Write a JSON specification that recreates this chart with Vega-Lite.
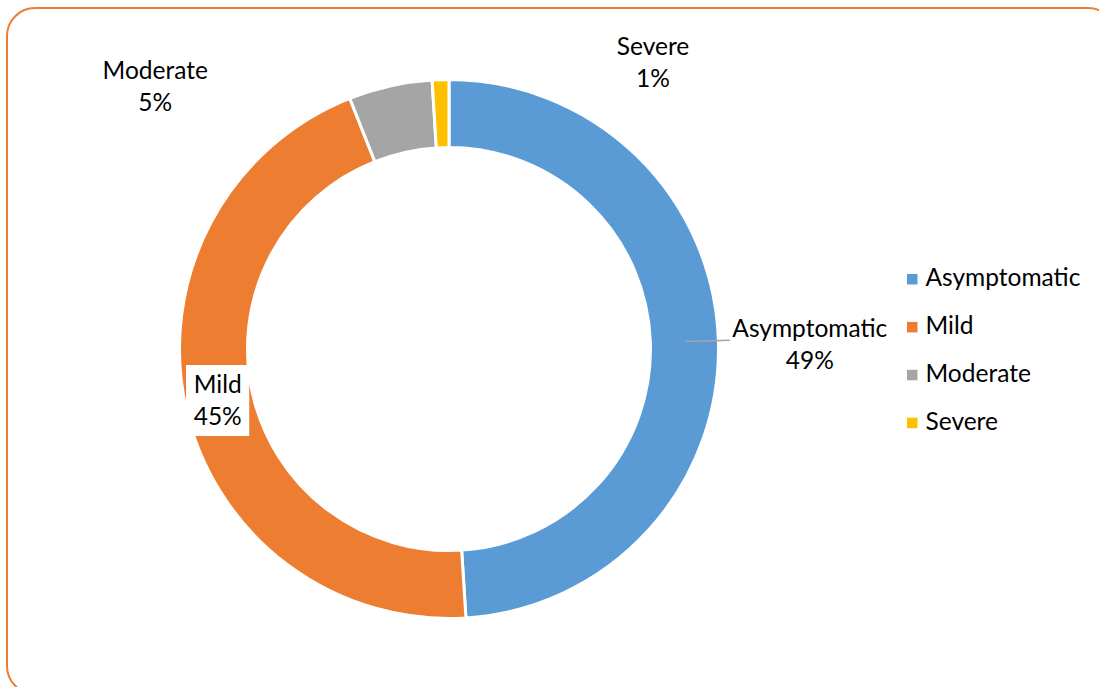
{
  "$schema": "https://vega.github.io/schema/vega-lite/v6.json",
  "width": 1099,
  "height": 687,
  "autosize": {"type": "fit", "contains": "padding"},
  "padding": {"left": 7, "top": 8, "right": -17, "bottom": -7},
  "background": "white",
  "view": {"stroke": "#ED7D31", "strokeWidth": 2, "cornerRadius": 28},
  "config": {"font": "Lato"},
  "data": {
    "values": [
      {"category": "Asymptomatic", "value": 49},
      {"category": "Mild", "value": 45},
      {"category": "Moderate", "value": 5},
      {"category": "Severe", "value": 1}
    ]
  },
  "transform": [
    {"window": [{"op": "sum", "field": "value", "as": "cum"}], "sort": [{"field": "category"}], "frame": [null, 0]},
    {"calculate": "datum.cum - datum.value / 2", "as": "mid"},
    {"calculate": "datum.category + '\\n' + datum.value + '%'", "as": "label"}
  ],
  "layer": [
    {
      "mark": {"type": "arc", "outerRadius": 269.5, "innerRadius": 201.5, "stroke": "white", "strokeWidth": 3, "x": 442, "y": 341},
      "encoding": {
        "theta": {"field": "value", "type": "quantitative", "stack": true},
        "order": {"field": "category", "type": "nominal"},
        "color": {
          "field": "category",
          "type": "nominal",
          "scale": {
            "domain": ["Asymptomatic", "Mild", "Moderate", "Severe"],
            "range": ["#5B9BD5", "#ED7D31", "#A5A5A5", "#FFC000"]
          },
          "legend": {
            "title": null,
            "orient": "none",
            "legendX": 893,
            "legendY": 259,
            "symbolType": "square",
            "symbolSize": 110,
            "symbolStrokeWidth": 0,
            "labelFont": "Lato",
            "labelFontSize": 24.5,
            "labelColor": "#000000",
            "labelOffset": 1,
            "rowPadding": 22.9
          }
        }
      }
    },
    {
      "transform": [{"filter": "datum.category === 'Asymptomatic'"}],
      "mark": {"type": "arc", "x": 442, "y": 341, "radius": 281, "radius2": 236, "fill": null, "stroke": "#A5A5A5", "strokeWidth": 1.5},
      "encoding": {
        "theta": {"field": "mid", "type": "quantitative", "stack": null},
        "theta2": {"field": "mid"}
      }
    },
    {
      "transform": [{"filter": "datum.category === 'Mild'"}],
      "mark": {"type": "text", "x": 442, "y": 341, "radius": 237, "dy": -9, "text": "▆", "font": "DejaVu Sans", "fontSize": 80, "color": "white", "align": "center", "baseline": "middle"},
      "encoding": {
        "theta": {"field": "mid", "type": "quantitative", "stack": null}
      }
    },
    {
      "transform": [{"filter": "datum.category === 'Asymptomatic'"}],
      "mark": {"type": "text", "x": 442, "y": 341, "radius": 361, "dy": -8, "fontSize": 24.5, "lineBreak": "\n", "lineHeight": 32, "color": "#000000", "align": "center", "baseline": "middle"},
      "encoding": {
        "theta": {"field": "mid", "type": "quantitative", "stack": null},
        "text": {"field": "label"}
      }
    },
    {
      "transform": [{"filter": "datum.category === 'Mild'"}],
      "mark": {"type": "text", "x": 442, "y": 341, "radius": 237, "dy": -15, "fontSize": 24.5, "lineBreak": "\n", "lineHeight": 32, "color": "#000000", "align": "center", "baseline": "middle"},
      "encoding": {
        "theta": {"field": "mid", "type": "quantitative", "stack": null},
        "text": {"field": "label"}
      }
    },
    {
      "transform": [{"filter": "datum.category === 'Moderate'"}],
      "mark": {"type": "text", "x": 442, "y": 341, "radius": 269.5, "dx": -235, "dy": -14, "fontSize": 24.5, "lineBreak": "\n", "lineHeight": 32, "color": "#000000", "align": "center", "baseline": "middle"},
      "encoding": {
        "theta": {"field": "mid", "type": "quantitative", "stack": null},
        "text": {"field": "label"}
      }
    },
    {
      "transform": [{"filter": "datum.category === 'Severe'"}],
      "mark": {"type": "text", "x": 442, "y": 341, "radius": 286, "dx": 213, "dy": -15, "fontSize": 24.5, "lineBreak": "\n", "lineHeight": 32, "color": "#000000", "align": "center", "baseline": "middle"},
      "encoding": {
        "theta": {"field": "mid", "type": "quantitative", "stack": null},
        "text": {"field": "label"}
      }
    }
  ]
}
